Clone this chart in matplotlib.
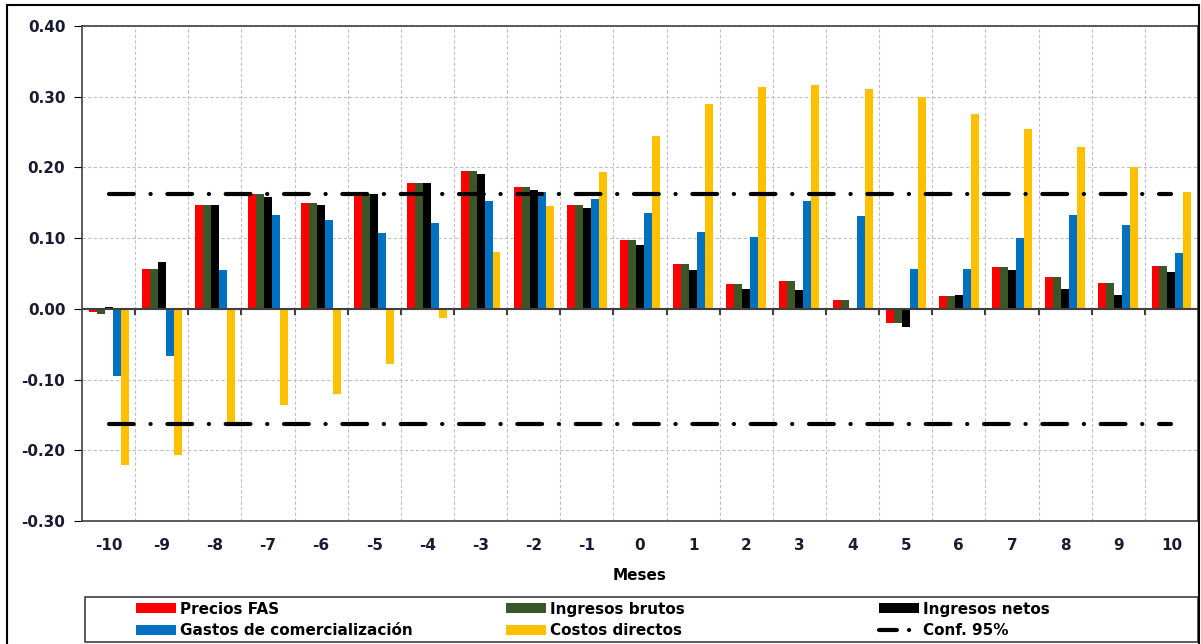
import matplotlib
matplotlib.use("Agg")
import matplotlib.pyplot as plt
import numpy as np
from matplotlib.patches import Rectangle
from matplotlib.lines import Line2D

meses = [str(m) for m in range(-10, 11)]
precios_fas = [-0.005, 0.057, 0.147, 0.163, 0.149, 0.162, 0.178, 0.195, 0.173, 0.147, 0.097,
               0.063, 0.035, 0.040, 0.013, -0.020, 0.018, 0.059, 0.045, 0.037, 0.060]
ingresos_brutos = [-0.007, 0.057, 0.147, 0.163, 0.149, 0.162, 0.178, 0.195, 0.173, 0.147, 0.097,
                   0.063, 0.035, 0.040, 0.013, -0.020, 0.018, 0.059, 0.045, 0.037, 0.060]
ingresos_netos = [0.003, 0.066, 0.147, 0.158, 0.147, 0.162, 0.178, 0.191, 0.168, 0.142, 0.090,
                  0.055, 0.028, 0.026, 0.0, -0.026, 0.020, 0.055, 0.028, 0.020, 0.052]
gastos_com = [-0.095, -0.066, 0.055, 0.133, 0.125, 0.107, 0.122, 0.153, 0.165, 0.155, 0.135,
              0.108, 0.102, 0.153, 0.131, 0.057, 0.056, 0.100, 0.133, 0.118, 0.079]
costos_directos = [-0.221, -0.207, -0.162, -0.136, -0.120, -0.078, -0.013, 0.081, 0.145, 0.193, 0.245,
                   0.290, 0.314, 0.316, 0.311, 0.300, 0.276, 0.254, 0.229, 0.200, 0.165]
conf95 = 0.163

series = [
    ("Precios FAS", precios_fas, "#FF0000"),
    ("Ingresos brutos", ingresos_brutos, "#3B5727"),
    ("Ingresos netos", ingresos_netos, "#000000"),
    ("Gastos de comercialización", gastos_com, "#0070C0"),
    ("Costos directos", costos_directos, "#FFC000"),
]

W, H = 1201, 644
fig = plt.figure(figsize=(W / 100, H / 100), dpi=100)
ax = fig.add_axes([82 / W, 1 - 521 / H, (1198 - 82) / W, (521 - 26) / H])

x = np.arange(len(meses))
bw = 0.15
handles = {}
for i, (name, vals, col) in enumerate(series):
    b = ax.bar(x + (i - 2) * bw, vals, width=bw, color=col, zorder=3, linewidth=0)
    handles[name] = b

ax.set_xlim(-0.5, len(meses) - 0.5)
ax.set_ylim(-0.30, 0.40)
yt = np.arange(-0.30, 0.401, 0.10)
ax.set_yticks(yt)
ax.set_yticklabels([f"{v:.2f}" for v in yt])
ax.set_xticks(x)
ax.set_xticklabels(meses)
ax.set_xticks(np.arange(0.5, len(meses) - 0.5, 1.0), minor=True)
ax.tick_params(axis="x", which="major", length=0, pad=12)
ax.tick_params(axis="x", which="minor", length=0)
ax.tick_params(axis="y", length=6, direction="out", pad=6)
for lab in ax.get_yticklabels() + ax.get_xticklabels():
    lab.set_fontweight("bold")
    lab.set_fontsize(11)
    lab.set_color("#1a1a33")

ax.grid(True, axis="y", which="major", color="#c0c0c0", linestyle=(0, (3, 2)), lw=0.8, zorder=0)
ax.grid(True, axis="x", which="minor", color="#c0c0c0", linestyle=(0, (3, 2)), lw=0.8, zorder=0)
ax.grid(False, axis="x", which="major")

ax.axhline(0, color="#404040", lw=1.5, zorder=4)
ax.vlines(np.arange(0.5, len(meses) - 0.5, 1.0), -0.009, 0, color="#404040", lw=1.5, zorder=4)

conf_dash = (0, (5.95, 4.0, 0.05, 4.0))
for c in (conf95, -conf95):
    ax.plot([x[0], x[-1]], [c, c], color="black", lw=3, linestyle=conf_dash,
            dash_capstyle="round", zorder=5)

for s in ax.spines.values():
    s.set_color("#404040")
    s.set_linewidth(1.2)

ax.set_xlabel("Meses", fontsize=11, fontweight="bold", labelpad=11)

# legend: three columns placed explicitly
conf_handle = Line2D([], [], color="black", lw=3, linestyle=(0, (4.3, 2.9, 0.05, 30)),
                     dash_capstyle="round")
cols = [
    (136, [handles["Precios FAS"], handles["Gastos de comercialización"]],
     ["Precios FAS", "Gastos de comercialización"]),
    (506, [handles["Ingresos brutos"], handles["Costos directos"]],
     ["Ingresos brutos", "Costos directos"]),
    (879, [handles["Ingresos netos"], conf_handle],
     ["Ingresos netos", "Conf. 95%"]),
]
for xpix, hs, ls in cols:
    lg = fig.legend(hs, ls, loc="center left", bbox_to_anchor=(xpix / W, 1 - 620 / H),
                    frameon=False, prop={"weight": "bold", "size": 11},
                    handlelength=2.6, handleheight=0.65, handletextpad=0.3,
                    borderpad=0, borderaxespad=0, labelspacing=0.45)

fig.patches.append(Rectangle((85 / W, 1 - 642 / H), (1198 - 85) / W, (642 - 597) / H,
                             transform=fig.transFigure, fill=False, edgecolor="#404040", lw=1.2))
fig.patches.append(Rectangle((7 / W, -0.05), (1199 - 7) / W, 1.05 - 5 / H, transform=fig.transFigure,
                             fill=False, edgecolor="black", lw=1.5))

fig.savefig("out.png", dpi=100)
